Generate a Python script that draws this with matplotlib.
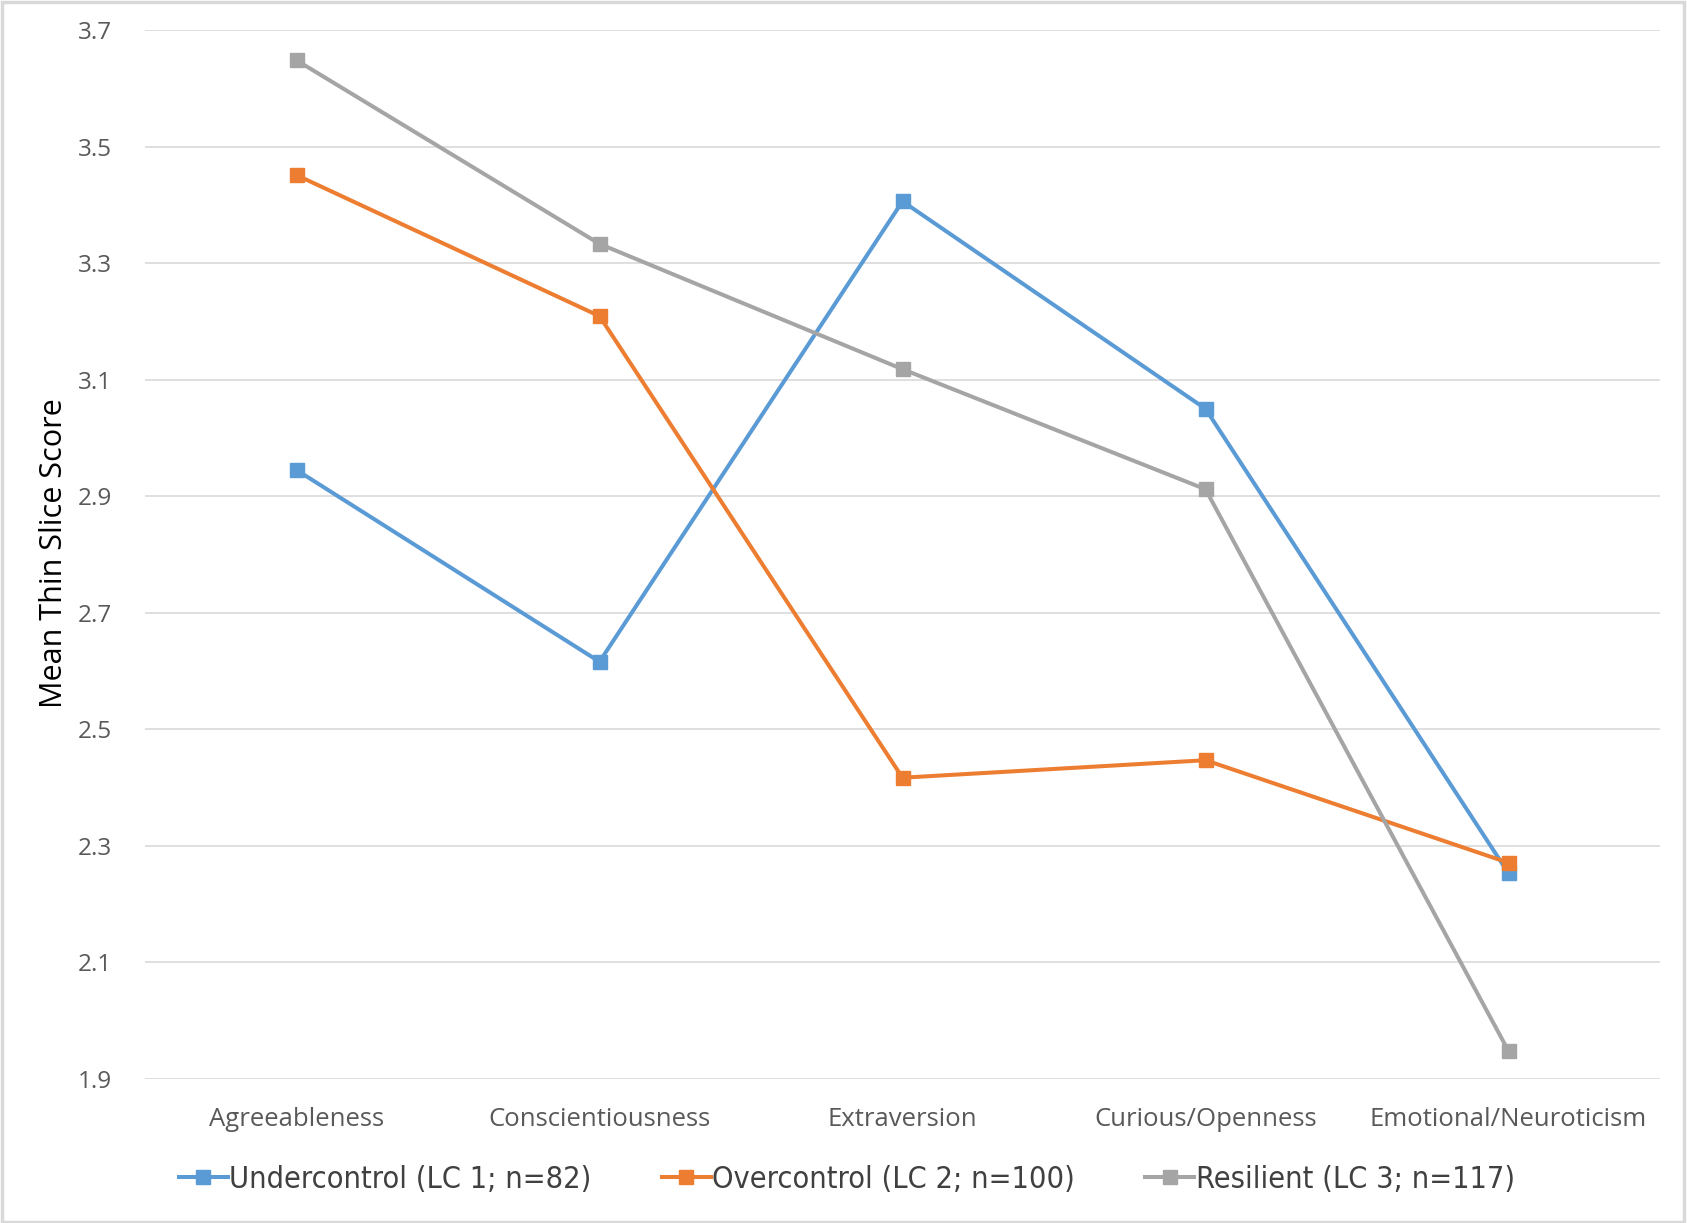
import matplotlib
matplotlib.use("Agg")
import matplotlib.pyplot as plt
from matplotlib.patches import Rectangle
from matplotlib.lines import Line2D
from matplotlib import font_manager as fm

categories = ["Agreeableness", "Conscientiousness", "Extraversion", "Curious/Openness", "Emotional/Neuroticism"]
undercontrol = [2.945, 2.616, 3.406, 3.050, 2.253]
overcontrol = [3.451, 3.209, 2.417, 2.447, 2.271]
resilient = [3.648, 3.333, 3.118, 2.912, 1.948]
series_names = ["Undercontrol (LC 1; n=82)", "Overcontrol (LC 2; n=100)", "Resilient (LC 3; n=117)"]
colors = ["#5B9BD5", "#ED7D31", "#A5A5A5"]
yticks = [1.9, 2.1, 2.3, 2.5, 2.7, 2.9, 3.1, 3.3, 3.5, 3.7]

plt.rcParams['font.family'] = ['Open Sans', 'DejaVu Sans']

fig = plt.figure(figsize=(16.87, 12.23), dpi=100)
ax = fig.add_axes([145/1687, 1 - 1079/1223, (1660-145)/1687, (1079-30)/1223])

x = list(range(len(categories)))
for vals, c, name in zip([undercontrol, overcontrol, resilient], colors, series_names):
    ax.plot(x, vals, color=c, lw=2.9, marker='s', markersize=10.5,
            markerfacecolor=c, markeredgecolor=c, label=name, zorder=3)

ax.set_xlim(-0.5, len(categories) - 0.5)
ax.set_ylim(1.9, 3.7)
ax.set_yticks(yticks)
ax.set_yticklabels([f"{v:.1f}" for v in yticks])
ax.set_xticks(x)
ax.set_xticklabels(categories)
ax.yaxis.grid(True, color="#D9D9D9", lw=1.2)
ax.set_axisbelow(True)
for s in ax.spines.values():
    s.set_visible(False)
ax.tick_params(axis='both', length=0, colors="#595959", labelsize=17.5)
ax.tick_params(axis='x', labelsize=18.5, pad=20)
ax.tick_params(axis='y', pad=24)
for lbl in ax.get_xticklabels() + ax.get_yticklabels():
    lbl.set_color("#595959")

fig.text(54/1687, 1 - 553/1223, "Mean Thin Slice Score", rotation=90, ha='center', va='center',
         fontsize=22, color="#000000")

handles = [Line2D([0], [0], color=c, lw=2.9, marker='s', markersize=10, markerfacecolor=c,
                  markeredgecolor=c) for c in colors]
legprop = fm.FontProperties(family=['DejaVu Sans'], stretch='condensed', size=22)
leg = fig.legend(handles, series_names, loc='center', bbox_to_anchor=(0.502, 1 - 1179/1223),
                 ncol=3, frameon=False, handlelength=1.6, handletextpad=0.05, columnspacing=2.3,
                 prop=legprop)
for t in leg.get_texts():
    t.set_color("#404040")

fig.patches.append(Rectangle((0.001, 0.001), 0.997, 0.997, transform=fig.transFigure,
                             fill=False, edgecolor="#D9D9D9", lw=2.5))

fig.savefig("out.png", dpi=100, facecolor="white")
